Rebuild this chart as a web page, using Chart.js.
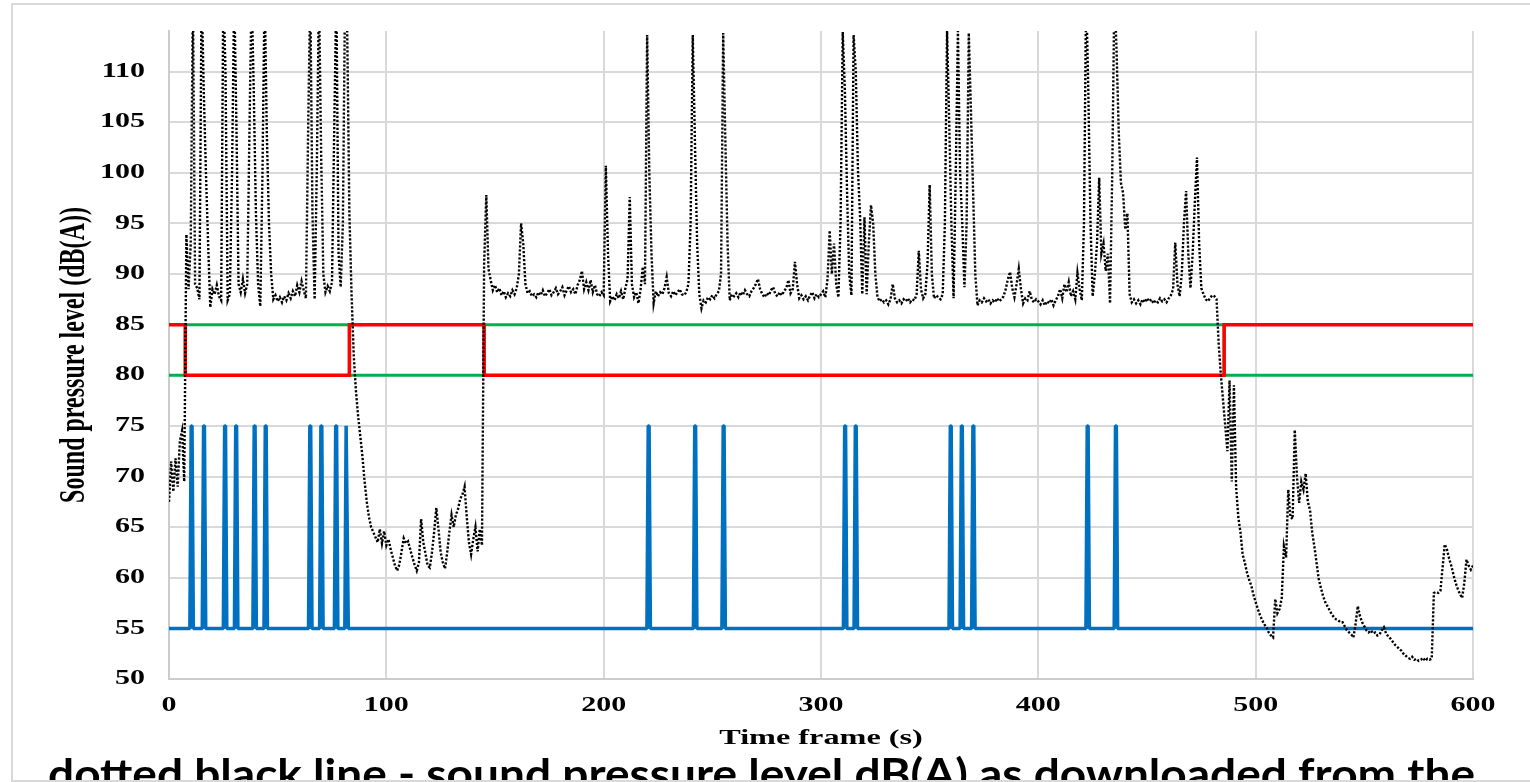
<!DOCTYPE html>
<html>
<head>
<meta charset="utf-8">
<script src="https://cdn.jsdelivr.net/npm/chart.js@4.4.1/dist/chart.umd.min.js"></script>
<style>
  html, body { margin: 0; padding: 0; background: #fff; overflow: hidden; width: 1530px; height: 782px; }
  #frame { position: absolute; left: 11px; top: 3px; width: 1560px; height: 779px; border: 2px solid #d9d9d9; box-sizing: border-box; }
  #c { position: absolute; left: 0; top: 0; }
  #cap { position: absolute; left: 0; top: 740px; width: 1530px; height: 40px; overflow: hidden; }
  #cap span { position: absolute; left: 48px; top: 12px; font: bold 42px Lato, "Liberation Sans", sans-serif; line-height: 1; white-space: nowrap; transform-origin: 0 0; color: #000; }
</style>
</head>
<body>
<div id="frame"></div>
<canvas id="c" width="1530" height="782"></canvas>
<div id="cap"><span id="capText">dotted black line - sound pressure level dB(A) as downloaded from the</span></div>
<script>
// ---------------- DATA ----------------
// Sound pressure level dB(A), one reading per second, 0 s .. 600 s (dotted black line)
const splLevel = [
  67.5, 71.5, 68.5, 71.8, 69, 73.5, 74.5, 69.5, 93.9, 88.5,
  93, 118, 89, 88.6, 87.5, 118, 108, 100, 93, 86.7,
  88.5, 88, 88.9, 87.8, 87.4, 118, 110, 87.4, 88, 100,
  118, 105, 89, 88.2, 89.5, 88.1, 89, 104, 118, 108,
  96, 89, 86.8, 100, 118, 104, 95, 90, 87.5, 87.9,
  87.3, 87.7, 87.2, 87.8, 87.4, 88.1, 87.6, 88.3, 87.8, 88.9,
  88.2, 89.3, 88.4, 87.6, 104, 118, 96, 87.5, 100, 118,
  102, 90, 88.2, 88.8, 88.3, 89.2, 104, 118, 92, 88.7,
  95, 118, 114, 96, 88, 82, 78.5, 76, 74, 72,
  69.5, 67.5, 66, 65, 64.5, 64, 63.5, 64.8, 63.4, 64.6,
  63.2, 63.8, 62.8, 62, 61.2, 60.7, 61.3, 62.6, 63.9, 63.4,
  63.6, 62.8, 62, 61.3, 60.7, 61.5, 65.8, 63.5, 62.4, 61.2,
  61, 62.5, 64.5, 66.9, 64.8, 62.5, 61.5, 60.9, 62.5, 64.5,
  66.2, 65, 66.2, 66.8, 67.8, 68.2, 69, 66, 63.5, 62.3,
  63.8, 65, 62.6, 64.8, 63.2, 91, 97.8, 90.5, 89.4, 88.4,
  88.9, 88.2, 88.6, 87.9, 88.3, 87.7, 88.1, 87.8, 88.4, 88,
  88.6, 90, 95, 93, 89, 88.1, 88.3, 87.8, 88, 87.7,
  88.2, 87.9, 88.4, 87.8, 88.1, 88.5, 87.9, 88.2, 88.6, 88,
  88.3, 88.7, 87.9, 88.4, 88.8, 88.2, 88.5, 88, 88.9, 89.4,
  90.3, 88.5, 89.2, 88.4, 89.4, 88.2, 88.9, 88, 87.8, 88.2,
  87.9, 100.7, 92, 87.3, 87.8, 87.4, 88, 87.6, 88.3, 87.5,
  88.6, 89.5, 97.6, 89, 87.7, 88.2, 87.1, 88.5, 90.7, 89,
  113.6, 100, 92, 87.1, 88.3, 87.8, 88.2, 88, 88.6, 89.7,
  88.1, 87.8, 88.3, 87.9, 88.2, 88.5, 88, 87.9, 88.2, 89,
  95, 113.6, 103, 93, 88, 86.6, 87.4, 87.2, 87.7, 87.5,
  87.9, 87.6, 88, 88.3, 90, 113.8, 103, 93, 87.4, 88,
  87.8, 88.1, 87.7, 88.2, 87.9, 88.4, 88, 87.8, 88.3, 88.6,
  89, 89.5, 88.5, 88, 87.7, 88.1, 87.9, 88.4, 88.7, 88,
  87.8, 88.2, 87.9, 88.3, 88.6, 89.4, 88.1, 88.5, 91.2, 89,
  87.6, 87.9, 87.5, 87.8, 87.4, 87.9, 88.2, 87.6, 88, 87.7,
  88, 88.3, 87.7, 89.5, 94.3, 90, 93, 89, 87.7, 95,
  113.9, 108, 98, 90, 87.9, 113.6, 110, 100.3, 95.6, 88,
  95.6, 88, 93, 96.8, 95, 90, 87.7, 87.3, 87.5, 87.2,
  87.4, 87, 87.5, 89, 87.6, 87.2, 87.4, 87.1, 87.5, 87.3,
  87.6, 87.2, 87.5, 87.4, 88, 92.3, 88.5, 87.6, 88, 91,
  98.8, 90, 87.6, 87.9, 87.7, 87.5, 88, 95, 114, 105,
  95, 87.6, 100, 114, 100, 95, 88.7, 95, 113.8, 106,
  98, 90, 86.9, 87.4, 87.2, 87.6, 87.3, 87.5, 87.1, 87.4,
  87.2, 87.6, 87.3, 87.5, 87.8, 88.5, 89.5, 90.2, 88.6, 87.7,
  89, 90.5, 88.5, 87.1, 87.6, 87.4, 88.3, 87.5, 87.2, 87.5,
  87.3, 87, 87.4, 86.9, 87.3, 87.1, 87.5, 86.9, 87.4, 87.8,
  88.5, 87.6, 89, 88.2, 89.2, 87.8, 88.3, 87.5, 90.1, 88.5,
  87.4, 95, 118, 108, 95, 87.8, 90, 93, 99.5, 92,
  93, 90.3, 92, 87.1, 100, 118, 112, 104, 99, 98,
  94.4, 96, 88, 87.2, 87.5, 87.1, 87.4, 87, 87.5, 87.2,
  87.6, 87.3, 87.5, 87.1, 87.4, 87.2, 87.6, 87.3, 87.5, 87.2,
  87.6, 87.9, 88.5, 93.1, 89, 87.8, 90, 95, 98.2, 92,
  88.6, 92, 97, 101.5, 93, 88.6, 88, 87.5, 87.3, 87.6,
  87.9, 87.8, 87.5, 83, 80, 77.5, 75, 72.5, 79.5, 69.5,
  79, 69, 66, 64.5, 62.3, 61.5, 60.5, 59.8, 59.2, 58.3,
  57.6, 56.9, 56.3, 55.8, 55.4, 55.1, 54.6, 54.3, 54.1, 57.9,
  56.5, 56.9, 58, 63.1, 62, 68.7, 66, 65.8, 74.6, 70,
  67.4, 69.5, 68.7, 70.3, 67.5, 66.7, 64.5, 63.1, 61.5, 59.9,
  59, 58.2, 57.6, 57.2, 56.8, 56.4, 56.1, 55.9, 55.8, 55.6,
  55.6, 55.2, 54.8, 54.6, 54.4, 54.1, 55.5, 57.2, 56.2, 55.6,
  55.2, 54.8, 54.6, 54.8, 54.5, 54.6, 54.3, 54.4, 54.8, 55.1,
  54.5, 54.2, 54, 53.7, 53.4, 53.2, 53, 52.8, 52.5, 52.3,
  52.1, 52, 52.2, 51.9, 52, 51.8, 51.9, 52.1, 51.8, 52,
  51.9, 52, 58.5, 58.6, 58.5, 58.7, 61, 63.3, 62.8, 61.9,
  61.2, 60.3, 59.5, 58.9, 58.4, 58, 59.5, 61.8, 61.2, 60.8,
  61.2
];
// one sample per second
const splSeconds = splLevel.map((_, i) => i);

// Red limit line (s, dB(A))
const redTimes  = [0, 7.5, 7.5, 83, 83, 145, 145, 485.5, 485.5, 600];
const redLevels = [85, 85, 80, 80, 85, 85, 80, 80, 85, 85];

// Green limit line (s, dB(A))
const greenTimes  = [0, 7.5, 7.5, 83, 83, 145, 145, 485.5, 485.5, 600];
const greenLevels = [80, 80, 85, 85, 80, 80, 85, 85, 80, 80];

// Blue event line (s, dB(A)) - each event: rise, flat top, fall
const blueTimes = [
  0,
  9.6, 10.2, 10.6, 11.2,     15.3, 15.9, 16.3, 16.9,     25.0, 25.6, 26.0, 26.6,
  30.1, 30.7, 31.1, 31.7,    38.6, 39.2, 39.6, 40.2,     43.7, 44.3, 44.7, 45.3,
  64.2, 64.8, 65.2, 65.8,    69.3, 69.9, 70.3, 70.9,     76.1, 76.7, 77.1, 77.7,
  80.9, 81.5, 81.9, 82.5,    219.9, 220.5, 220.9, 221.5, 241.3, 241.9, 242.3, 242.9,
  254.4, 255.0, 255.4, 256.0, 310.3, 310.9, 311.3, 311.9, 315.2, 315.8, 316.2, 316.8,
  358.9, 359.5, 359.9, 360.5, 364.0, 364.6, 365.0, 365.6, 369.3, 369.9, 370.3, 370.9,
  421.9, 422.5, 422.9, 423.5, 434.9, 435.5, 435.9, 436.5,
  600
];
const blueLevels = [
  55,
  55, 75, 75, 55,  55, 75, 75, 55,  55, 75, 75, 55,
  55, 75, 75, 55,  55, 75, 75, 55,  55, 75, 75, 55,
  55, 75, 75, 55,  55, 75, 75, 55,  55, 75, 75, 55,
  55, 75, 75, 55,  55, 75, 75, 55,  55, 75, 75, 55,
  55, 75, 75, 55,  55, 75, 75, 55,  55, 75, 75, 55,
  55, 75, 75, 55,  55, 75, 75, 55,  55, 75, 75, 55,
  55, 75, 75, 55,  55, 75, 75, 55,
  55
];

// Axis ticks / labels
const xTickStep = 100, xMin = 0, xMax = 600;
const yTickStep = 5, yMin = 50, yMax = 114;
const xTitle = 'Time frame (s)';
const yTitle = 'Sound pressure level (dB(A))';

// --------------- RENDER ---------------
const SX = 1.5; // the reference text is stretched horizontally
const canvas = document.getElementById('c');
const ctx = canvas.getContext('2d');
const origFill = ctx.fillText;
ctx.fillText = function (t, x, y) {
  this.save();
  this.translate(x, y);
  const m = this.getTransform();
  if (Math.abs(m.b) > Math.abs(m.a)) this.scale(1, SX); else this.scale(SX, 1);
  origFill.call(this, t, 0, 0);
  this.restore();
};

const pts = (xs, ys) => xs.map((x, i) => ({ x: x, y: ys[i] }));
const tickFont = { family: '"Liberation Serif", "Times New Roman", serif', weight: 'bold', size: 20 };

new Chart(ctx, {
  type: 'line',
  data: {
    datasets: [
      { label: 'Sound pressure level', data: pts(splSeconds, splLevel), borderColor: '#000000',
        borderWidth: 2.4, borderDash: [2.2, 1.8], pointRadius: 0, tension: 0, order: 0 },
      { label: 'Red', data: pts(redTimes, redLevels), borderColor: '#ff0000',
        borderWidth: 3.5, pointRadius: 0, tension: 0, order: 1 },
      { label: 'Green', data: pts(greenTimes, greenLevels), borderColor: '#00b050',
        borderWidth: 3, pointRadius: 0, tension: 0, order: 2 },
      { label: 'Blue', data: pts(blueTimes, blueLevels), borderColor: '#0070c0',
        borderWidth: 3.5, borderJoinStyle: 'bevel', pointRadius: 0, tension: 0, order: 3 }
    ]
  },
  options: {
    responsive: false,
    animation: false,
    events: [],
    layout: { padding: { left: 0, right: 57, top: 31, bottom: 22 } },
    plugins: { legend: { display: false }, tooltip: { enabled: false }, title: { display: false } },
    scales: {
      x: {
        type: 'linear', min: xMin, max: xMax,
        ticks: { stepSize: xTickStep, font: tickFont, color: '#000', padding: 15, maxRotation: 0 },
        grid: { color: '#d9d9d9', lineWidth: 2, drawTicks: false },
        border: { color: '#cccccc', width: 2 },
        title: { display: true, text: xTitle, color: '#000',
                 font: { family: tickFont.family, weight: 'bold', size: 21.5 }, padding: { top: 0, bottom: 9 } },
        afterFit(s) { s.height = 81; s.paddingLeft = 0; s.paddingRight = 0; }
      },
      y: {
        type: 'linear', min: yMin, max: yMax,
        ticks: { stepSize: yTickStep, includeBounds: false, font: tickFont, color: '#000', padding: 24 },
        grid: { color: '#d9d9d9', lineWidth: 2, drawTicks: false },
        border: { color: '#cccccc', width: 2 },
        title: { display: true, text: yTitle, color: '#000',
                 font: { family: tickFont.family, weight: 'bold', size: 24 }, padding: { top: 60, bottom: 0 } },
        afterFit(s) { s.width = 169; s.paddingTop = 0; s.paddingBottom = 0; }
      }
    }
  }
});

// fit caption width to the reference span
const cap = document.getElementById('capText');
const w = cap.getBoundingClientRect().width;
cap.style.transform = 'scaleX(' + (1427 / w) + ')';
</script>
</body>
</html>
